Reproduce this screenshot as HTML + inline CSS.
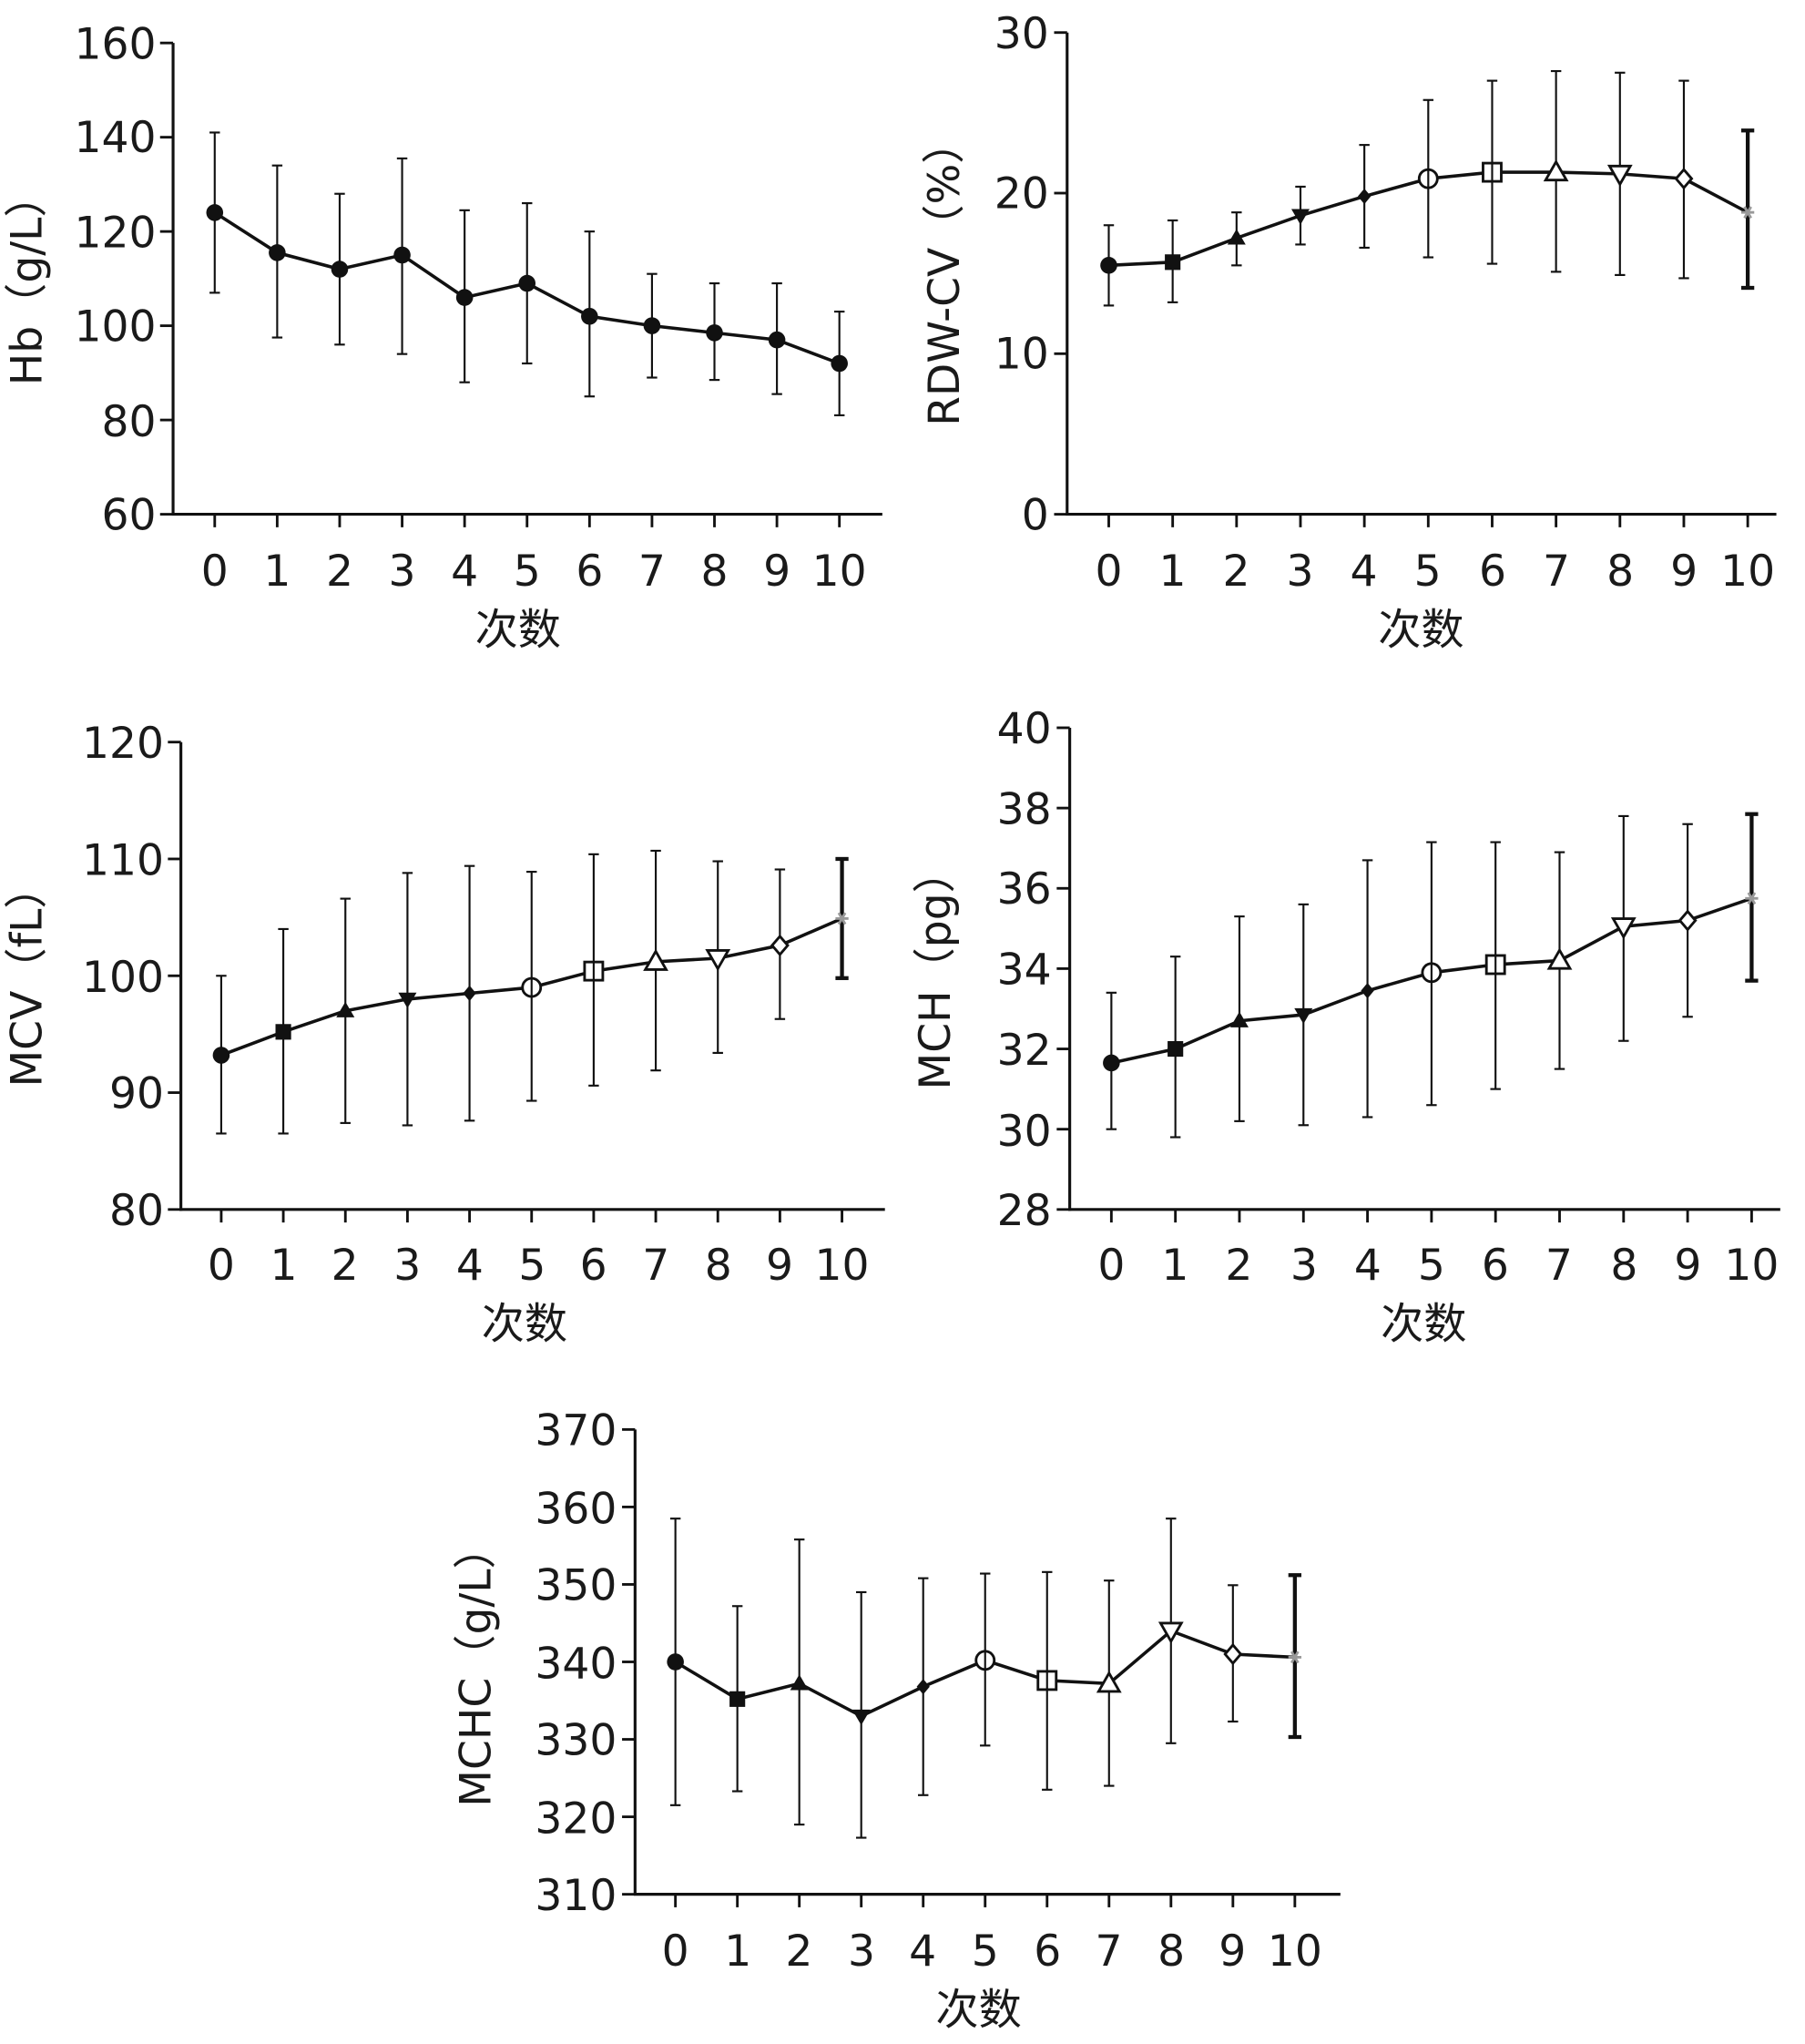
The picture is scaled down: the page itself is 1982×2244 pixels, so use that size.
<!DOCTYPE html>
<html><head><meta charset="utf-8"><style>
html,body{margin:0;padding:0;background:#fff}
svg{display:block}
text{font-family:"DejaVu Sans","Liberation Sans","Noto Sans CJK SC",sans-serif;fill:#1a1a1a}
.t{font-size:33px}
.yl{font-size:33px}
</style></head><body>
<svg id="s" width="1982" height="2244" viewBox="0 0 1387 1570" preserveAspectRatio="none" xmlns="http://www.w3.org/2000/svg">
<g id="g"></g>
<!-- Panel 1 -->
<g class="t" text-anchor="end">
<text x="120" y="45">160</text><text x="120" y="117">140</text><text x="120" y="190">120</text><text x="120" y="262">100</text><text x="120" y="335">80</text><text x="120" y="407">60</text>
</g>
<g class="t" text-anchor="middle">
<text x="165" y="450">0</text><text x="213" y="450">1</text><text x="261" y="450">2</text><text x="309" y="450">3</text><text x="357" y="450">4</text><text x="405" y="450">5</text><text x="453" y="450">6</text><text x="501" y="450">7</text><text x="549" y="450">8</text><text x="597" y="450">9</text><text x="645" y="450">10</text>
<text x="398" y="495">次数</text>
</g>
<text class="yl" text-anchor="middle" transform="translate(32,215) rotate(-90)">Hb（g/L）</text>
<!-- Panel 2 -->
<g class="t" text-anchor="end">
<text x="806" y="37">30</text><text x="806" y="160">20</text><text x="806" y="283">10</text><text x="806" y="407">0</text>
</g>
<g class="t" text-anchor="middle">
<text x="852" y="450">0</text><text x="901" y="450">1</text><text x="950" y="450">2</text><text x="999" y="450">3</text><text x="1048" y="450">4</text><text x="1097" y="450">5</text><text x="1147" y="450">6</text><text x="1196" y="450">7</text><text x="1245" y="450">8</text><text x="1294" y="450">9</text><text x="1343" y="450">10</text>
<text x="1092" y="495">次数</text>
</g>
<text class="yl" text-anchor="middle" transform="translate(737,210) rotate(-90)">RDW-CV（%）</text>
<!-- Panel 3 -->
<g class="t" text-anchor="end">
<text x="126" y="582">120</text><text x="126" y="672">110</text><text x="126" y="762">100</text><text x="126" y="851">90</text><text x="126" y="941">80</text>
</g>
<g class="t" text-anchor="middle">
<text x="170" y="983">0</text><text x="218" y="983">1</text><text x="265" y="983">2</text><text x="313" y="983">3</text><text x="361" y="983">4</text><text x="409" y="983">5</text><text x="456" y="983">6</text><text x="504" y="983">7</text><text x="552" y="983">8</text><text x="599" y="983">9</text><text x="647" y="983">10</text>
<text x="403" y="1028">次数</text>
</g>
<text class="yl" text-anchor="middle" transform="translate(32,750) rotate(-90)">MCV（fL）</text>
<!-- Panel 4 -->
<g class="t" text-anchor="end">
<text x="808" y="571">40</text><text x="808" y="633">38</text><text x="808" y="694">36</text><text x="808" y="756">34</text><text x="808" y="818">32</text><text x="808" y="880">30</text><text x="808" y="941">28</text>
</g>
<g class="t" text-anchor="middle">
<text x="854" y="983">0</text><text x="903" y="983">1</text><text x="952" y="983">2</text><text x="1002" y="983">3</text><text x="1051" y="983">4</text><text x="1100" y="983">5</text><text x="1149" y="983">6</text><text x="1198" y="983">7</text><text x="1248" y="983">8</text><text x="1297" y="983">9</text><text x="1346" y="983">10</text>
<text x="1094" y="1028">次数</text>
</g>
<text class="yl" text-anchor="middle" transform="translate(730,745) rotate(-90)">MCH（pg）</text>
<!-- Panel 5 -->
<g class="t" text-anchor="end">
<text x="474" y="1110">370</text><text x="474" y="1170">360</text><text x="474" y="1229">350</text><text x="474" y="1289">340</text><text x="474" y="1348">330</text><text x="474" y="1408">320</text><text x="474" y="1467">310</text>
</g>
<g class="t" text-anchor="middle">
<text x="519" y="1510">0</text><text x="567" y="1510">1</text><text x="614" y="1510">2</text><text x="662" y="1510">3</text><text x="709" y="1510">4</text><text x="757" y="1510">5</text><text x="805" y="1510">6</text><text x="852" y="1510">7</text><text x="900" y="1510">8</text><text x="947" y="1510">9</text><text x="995" y="1510">10</text>
<text x="752" y="1555">次数</text>
</g>
<text class="yl" text-anchor="middle" transform="translate(377,1280) rotate(-90)">MCHC（g/L）</text>
</svg>
<script>
const NS="http://www.w3.org/2000/svg",G=document.getElementById("g");
function el(t,a){const e=document.createElementNS(NS,t);for(const k in a)e.setAttribute(k,a[k]);G.appendChild(e);return e;}
function ln(x1,y1,x2,y2,w){el("line",{x1,y1,x2,y2,stroke:"#111","stroke-width":w||2});}
function marker(type,x,y){
 const S="#111";
 switch(type){
 case "c":el("circle",{cx:x,cy:y,r:6.5,fill:S});break;
 case "s":el("rect",{x:x-6,y:y-6,width:12,height:12,fill:S});break;
 case "tu":el("polygon",{points:`${x},${y-7} ${x+7},${y+5} ${x-7},${y+5}`,fill:S});break;
 case "td":el("polygon",{points:`${x},${y+7} ${x+7},${y-5} ${x-7},${y-5}`,fill:S});break;
 case "d":el("polygon",{points:`${x},${y-6} ${x+5},${y} ${x},${y+6} ${x-5},${y}`,fill:S});break;
 case "oc":el("circle",{cx:x,cy:y,r:7,fill:"#fff",stroke:S,"stroke-width":2});ln(x,y-7,x,y+7,1.5);break;
 case "os":el("rect",{x:x-7,y:y-7,width:14,height:14,fill:"#fff",stroke:S,"stroke-width":2});ln(x,y-7,x,y+7,1.5);break;
 case "ot":el("polygon",{points:`${x},${y-8} ${x+8},${y+6} ${x-8},${y+6}`,fill:"#fff",stroke:S,"stroke-width":2});break;
 case "otd":el("polygon",{points:`${x},${y+8} ${x+8},${y-6} ${x-8},${y-6}`,fill:"#fff",stroke:S,"stroke-width":2});break;
 case "od":el("polygon",{points:`${x},${y-7} ${x+6},${y} ${x},${y+7} ${x-6},${y}`,fill:"#fff",stroke:S,"stroke-width":2});break;
 case "ast":for(let a=0;a<3;a++){const r=a*Math.PI/3,c=Math.cos(r)*5,s=Math.sin(r)*5;el("line",{x1:x-c,y1:y-s,x2:x+c,y2:y+s,stroke:"#999","stroke-width":2});}break;
 }
}
const mk2=["c","s","tu","td","d","oc","os","ot","otd","od","ast"];
function panel(p){
 const {ax,top,bot,right,x0,dx,vmin,vmax,yt,data,mk}=p;
 const Y=v=>bot-(v-vmin)/(vmax-vmin)*(bot-top);
 ln(ax,top,ax,bot+1,2.2);ln(ax-1,bot,right,bot,2.2);
 yt.forEach(v=>ln(ax-10,Y(v),ax,Y(v),2));
 for(let i=0;i<=10;i++)ln(x0+i*dx,bot,x0+i*dx,bot+10,2);
 data.forEach((d,i)=>{const x=x0+i*dx;const last=mk[i]=="ast";const w=last?3:1.5;
  ln(x,Y(d[1]),x,Y(d[2]),w);ln(x-(last?5:4),Y(d[1]),x+(last?5:4),Y(d[1]),w);ln(x-(last?5:4),Y(d[2]),x+(last?5:4),Y(d[2]),w);});
 el("polyline",{points:data.map((d,i)=>`${x0+i*dx},${Y(d[0])}`).join(" "),fill:"none",stroke:"#111","stroke-width":2.5});
 data.forEach((d,i)=>marker(mk[i],x0+i*dx,Y(d[0])));
}
panel({ax:133,top:33,bot:395,right:678,x0:165,dx:48,vmin:60,vmax:160,yt:[60,80,100,120,140,160],mk:Array(11).fill("c"),
data:[[124,107,141],[115.5,97.5,134],[112,96,128],[115,94,135.5],[106,88,124.5],[109,92,126],[102,85,120],[100,89,111],[98.5,88.5,109],[97,85.5,109],[92,81,103]]});
panel({ax:820,top:25,bot:395,right:1365,x0:852,dx:49.1,vmin:0,vmax:30,yt:[0,10,20,30],mk:mk2,
data:[[15.5,13,18],[15.7,13.2,18.3],[17.2,15.5,18.8],[18.6,16.8,20.4],[19.8,16.6,23],[20.9,16,25.8],[21.3,15.6,27],[21.3,15.1,27.6],[21.2,14.9,27.5],[20.9,14.7,27],[18.8,14.1,23.9]]});
panel({ax:139,top:570,bot:929,right:680,x0:170,dx:47.7,vmin:80,vmax:120,yt:[80,90,100,110,120],mk:mk2,
data:[[93.2,86.5,100],[95.2,86.5,104],[97,87.4,106.6],[98,87.2,108.8],[98.5,87.6,109.4],[99,89.3,108.9],[100.4,90.6,110.4],[101.2,91.9,110.7],[101.5,93.4,109.8],[102.6,96.3,109.1],[104.9,99.8,110]]});
panel({ax:822,top:559,bot:929,right:1368,x0:854,dx:49.2,vmin:28,vmax:40,yt:[28,30,32,34,36,38,40],mk:mk2,
data:[[31.65,30,33.4],[32,29.8,34.3],[32.7,30.2,35.3],[32.85,30.1,35.6],[33.45,30.3,36.7],[33.9,30.6,37.15],[34.1,31,37.15],[34.2,31.5,36.9],[35.05,32.2,37.8],[35.2,32.8,37.6],[35.75,33.7,37.85]]});
panel({ax:488,top:1098,bot:1455,right:1030,x0:519,dx:47.6,vmin:310,vmax:370,yt:[310,320,330,340,350,360,370],mk:mk2,
data:[[340,321.5,358.5],[335.2,323.3,347.2],[337.2,319,355.8],[333,317.3,349],[336.8,322.8,350.8],[340.2,329.2,351.4],[337.6,323.5,351.6],[337.2,324,350.5],[344,329.5,358.5],[341,332.3,349.9],[340.6,330.3,351.2]]});
</script>
</body></html>
